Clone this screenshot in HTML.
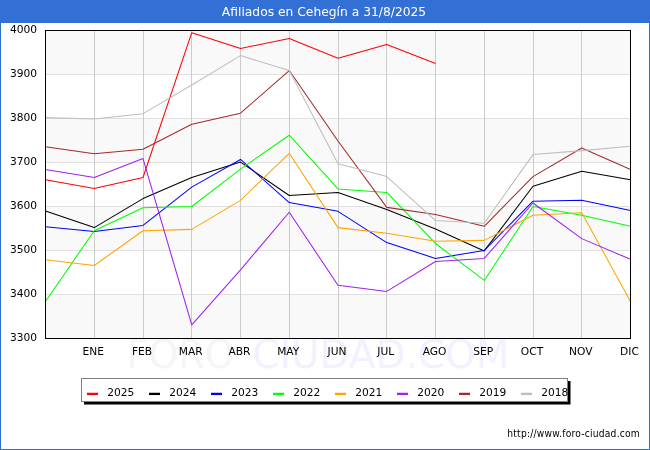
<!DOCTYPE html>
<html><head><meta charset="utf-8"><title>Afiliados en Cehegín a 31/8/2025</title>
<style>
html,body{margin:0;padding:0;background:#fff;}
body{width:650px;height:450px;overflow:hidden;position:relative;font-family:"DejaVu Sans","Liberation Sans",sans-serif;}
svg{position:absolute;left:0;top:0;display:block;}
text{font-family:"DejaVu Sans","Liberation Sans",sans-serif;}
text.url{font-family:"DejaVu Sans Condensed","DejaVu Sans","Liberation Sans",sans-serif;}
</style></head><body>
<svg width="650" height="450" viewBox="0 0 650 450">
<rect x="0" y="0" width="650" height="450" fill="#ffffff"/>
<rect x="0.5" y="0.5" width="649" height="449" fill="none" stroke="#3370d6" stroke-width="1"/>
<rect x="0" y="0" width="650" height="23" fill="#3370d6"/>
<text x="324" y="16" font-size="12.3" fill="#ffffff" text-anchor="middle">Afiliados en Cehegín a 31/8/2025</text>
<text x="126.6" y="367.5" font-size="38.4" fill="#f5f5f5" textLength="108" lengthAdjust="spacingAndGlyphs">FORO</text>
<text x="252.35" y="367.5" font-size="38.4" fill="#f1f1ff" textLength="257" lengthAdjust="spacingAndGlyphs">CIUDAD.COM</text>
<rect x="45" y="30" width="586" height="44" fill="#f9f9f9"/>
<rect x="45" y="74" width="586" height="44" fill="#ffffff"/>
<rect x="45" y="118" width="586" height="44" fill="#f9f9f9"/>
<rect x="45" y="162" width="586" height="44" fill="#ffffff"/>
<rect x="45" y="206" width="586" height="44" fill="#f9f9f9"/>
<rect x="45" y="250" width="586" height="44" fill="#ffffff"/>
<rect x="45" y="294" width="586" height="44" fill="#f9f9f9"/>
<line x1="46" x2="630" y1="74.5" y2="74.5" stroke="#e0e0e0" stroke-width="1"/>
<line x1="46" x2="630" y1="118.5" y2="118.5" stroke="#e0e0e0" stroke-width="1"/>
<line x1="46" x2="630" y1="162.5" y2="162.5" stroke="#e0e0e0" stroke-width="1"/>
<line x1="46" x2="630" y1="206.5" y2="206.5" stroke="#e0e0e0" stroke-width="1"/>
<line x1="46" x2="630" y1="250.5" y2="250.5" stroke="#e0e0e0" stroke-width="1"/>
<line x1="46" x2="630" y1="294.5" y2="294.5" stroke="#e0e0e0" stroke-width="1"/>
<line x1="94.50" x2="94.50" y1="31" y2="338" stroke="#cbcbcb" stroke-width="1"/>
<line x1="143.50" x2="143.50" y1="31" y2="338" stroke="#cbcbcb" stroke-width="1"/>
<line x1="191.50" x2="191.50" y1="31" y2="338" stroke="#cbcbcb" stroke-width="1"/>
<line x1="240.50" x2="240.50" y1="31" y2="338" stroke="#cbcbcb" stroke-width="1"/>
<line x1="289.50" x2="289.50" y1="31" y2="338" stroke="#cbcbcb" stroke-width="1"/>
<line x1="338.50" x2="338.50" y1="31" y2="338" stroke="#cbcbcb" stroke-width="1"/>
<line x1="386.50" x2="386.50" y1="31" y2="338" stroke="#cbcbcb" stroke-width="1"/>
<line x1="435.50" x2="435.50" y1="31" y2="338" stroke="#cbcbcb" stroke-width="1"/>
<line x1="484.50" x2="484.50" y1="31" y2="338" stroke="#cbcbcb" stroke-width="1"/>
<line x1="533.50" x2="533.50" y1="31" y2="338" stroke="#cbcbcb" stroke-width="1"/>
<line x1="581.50" x2="581.50" y1="31" y2="338" stroke="#cbcbcb" stroke-width="1"/>
<polyline fill="none" stroke="#ff0000" stroke-width="1.05" stroke-linejoin="round" points="45.50,179.66 94.25,188.46 143.00,177.46 191.75,32.70 240.50,48.54 289.25,38.42 338.00,58.22 386.75,44.58 435.50,63.50"/>
<polyline fill="none" stroke="#000000" stroke-width="1.05" stroke-linejoin="round" points="45.50,210.90 94.25,227.62 143.00,198.58 191.75,177.46 240.50,162.06 289.25,195.50 338.00,192.42 386.75,209.58 435.50,228.94 484.25,250.94 533.00,186.26 581.75,171.30 630.50,179.66"/>
<polyline fill="none" stroke="#0000ff" stroke-width="1.05" stroke-linejoin="round" points="45.50,226.74 94.25,231.58 143.00,225.42 191.75,187.14 240.50,159.42 289.25,202.54 338.00,211.34 386.75,242.58 435.50,258.42 484.25,250.50 533.00,201.22 581.75,200.34 630.50,210.46"/>
<polyline fill="none" stroke="#00ff00" stroke-width="1.05" stroke-linejoin="round" points="45.50,301.54 94.25,230.70 143.00,207.82 191.75,206.50 240.50,169.10 289.25,135.22 338.00,188.90 386.75,192.42 435.50,243.46 484.25,280.42 533.00,206.50 581.75,215.30 630.50,226.30"/>
<polyline fill="none" stroke="#ffa500" stroke-width="1.05" stroke-linejoin="round" points="45.50,259.74 94.25,265.46 143.00,230.70 191.75,229.38 240.50,200.34 289.25,153.26 338.00,227.62 386.75,233.34 435.50,241.26 484.25,240.38 533.00,215.30 581.75,212.66 630.50,301.54"/>
<polyline fill="none" stroke="#a020f0" stroke-width="1.05" stroke-linejoin="round" points="45.50,169.54 94.25,177.46 143.00,158.54 191.75,324.86 240.50,269.86 289.25,212.22 338.00,285.26 386.75,291.42 435.50,261.50 484.25,258.42 533.00,202.98 581.75,238.62 630.50,259.30"/>
<polyline fill="none" stroke="#a52a2a" stroke-width="1.05" stroke-linejoin="round" points="45.50,146.66 94.25,153.70 143.00,149.30 191.75,124.22 240.50,113.22 289.25,70.54 338.00,140.94 386.75,207.38 435.50,214.42 484.25,226.30 533.00,176.58 581.75,147.98 630.50,169.54"/>
<polyline fill="none" stroke="#bebebe" stroke-width="1.05" stroke-linejoin="round" points="45.50,117.62 94.25,118.94 143.00,113.66 191.75,85.06 240.50,55.58 289.25,70.54 338.00,163.82 386.75,176.58 435.50,220.58 484.25,223.22 533.00,154.58 581.75,150.62 630.50,146.22"/>
<rect x="45.5" y="30.5" width="585" height="308" fill="none" stroke="#000" stroke-width="1"/>
<text x="37" y="32.5" font-size="10.67" fill="#000" text-anchor="end">4000</text>
<text x="37" y="76.5" font-size="10.67" fill="#000" text-anchor="end">3900</text>
<text x="37" y="120.5" font-size="10.67" fill="#000" text-anchor="end">3800</text>
<text x="37" y="164.5" font-size="10.67" fill="#000" text-anchor="end">3700</text>
<text x="37" y="208.5" font-size="10.67" fill="#000" text-anchor="end">3600</text>
<text x="37" y="252.5" font-size="10.67" fill="#000" text-anchor="end">3500</text>
<text x="37" y="296.5" font-size="10.67" fill="#000" text-anchor="end">3400</text>
<text x="37" y="340.5" font-size="10.67" fill="#000" text-anchor="end">3300</text>
<text x="93.25" y="355" font-size="10.67" fill="#000" text-anchor="middle">ENE</text>
<text x="142.00" y="355" font-size="10.67" fill="#000" text-anchor="middle">FEB</text>
<text x="190.75" y="355" font-size="10.67" fill="#000" text-anchor="middle">MAR</text>
<text x="239.50" y="355" font-size="10.67" fill="#000" text-anchor="middle">ABR</text>
<text x="288.25" y="355" font-size="10.67" fill="#000" text-anchor="middle">MAY</text>
<text x="337.00" y="355" font-size="10.67" fill="#000" text-anchor="middle">JUN</text>
<text x="385.75" y="355" font-size="10.67" fill="#000" text-anchor="middle">JUL</text>
<text x="434.50" y="355" font-size="10.67" fill="#000" text-anchor="middle">AGO</text>
<text x="483.25" y="355" font-size="10.67" fill="#000" text-anchor="middle">SEP</text>
<text x="532.00" y="355" font-size="10.67" fill="#000" text-anchor="middle">OCT</text>
<text x="580.75" y="355" font-size="10.67" fill="#000" text-anchor="middle">NOV</text>
<text x="629.50" y="355" font-size="10.67" fill="#000" text-anchor="middle">DIC</text>
<rect x="84" y="381" width="486.5" height="23.5" fill="#000"/>
<rect x="81.5" y="378.5" width="486" height="23" fill="#fff" stroke="#808080" stroke-width="1"/>
<line x1="87" x2="98" y1="393.9" y2="393.9" stroke="#ff0000" stroke-width="2.3"/>
<text x="107.2" y="396" font-size="10.67" fill="#000">2025</text>
<line x1="149" x2="160" y1="393.9" y2="393.9" stroke="#000000" stroke-width="2.3"/>
<text x="169.2" y="396" font-size="10.67" fill="#000">2024</text>
<line x1="211" x2="222" y1="393.9" y2="393.9" stroke="#0000ff" stroke-width="2.3"/>
<text x="231.2" y="396" font-size="10.67" fill="#000">2023</text>
<line x1="273" x2="284" y1="393.9" y2="393.9" stroke="#00ff00" stroke-width="2.3"/>
<text x="293.2" y="396" font-size="10.67" fill="#000">2022</text>
<line x1="335" x2="346" y1="393.9" y2="393.9" stroke="#ffa500" stroke-width="2.3"/>
<text x="355.2" y="396" font-size="10.67" fill="#000">2021</text>
<line x1="397" x2="408" y1="393.9" y2="393.9" stroke="#a020f0" stroke-width="2.3"/>
<text x="417.2" y="396" font-size="10.67" fill="#000">2020</text>
<line x1="459" x2="470" y1="393.9" y2="393.9" stroke="#a52a2a" stroke-width="2.3"/>
<text x="479.2" y="396" font-size="10.67" fill="#000">2019</text>
<line x1="521" x2="532" y1="393.9" y2="393.9" stroke="#bebebe" stroke-width="2.3"/>
<text x="541.2" y="396" font-size="10.67" fill="#000">2018</text>
<text class="url" x="507.3" y="436.6" font-size="10.2" fill="#000" textLength="132.5" lengthAdjust="spacing">http://www.foro-ciudad.com</text>
</svg></body></html>
